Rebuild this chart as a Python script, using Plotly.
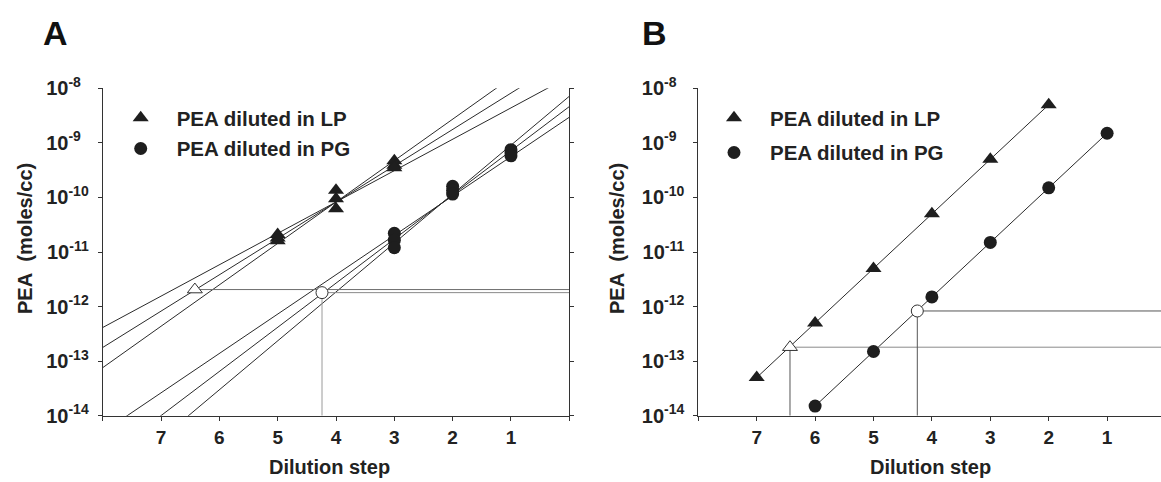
import numpy as np
import plotly.graph_objects as go

W, H = 1161, 482
FONT = "Liberation Sans, Arial, Helvetica, sans-serif"
INK = "#1e1e1e"
FS = "\u2007"  # figure space keeps tick labels left-aligned like the original

# ---------------- data ----------------
x_tickvals = [8, 7, 6, 5, 4, 3, 2, 1, 0]
x_ticktext = ["", "7", "6", "5", "4", "3", "2", "1", ""]
y_tickvals = [1e-14, 1e-13, 1e-12, 1e-11, 1e-10, 1e-9, 1e-8]
y_ticktext = ["10<sup>-14</sup>", "10<sup>-13</sup>", "10<sup>-12</sup>", "10<sup>-11</sup>",
              "10<sup>-10</sup>", "10<sup>-9" + FS + "</sup>", "10<sup>-8" + FS + "</sup>"]

# Panel A: replicate measurements
lp_a_step = [5, 5, 5, 4, 4, 4, 3, 3, 3]
lp_a_conc = [2.1e-11, 1.8e-11, 1.6e-11, 1.35e-10, 9.5e-11, 6.2e-11, 4.7e-10, 3.9e-10, 3.5e-10]
pg_a_step = [3, 3, 3, 2, 2, 2, 1, 1, 1]
pg_a_conc = [2.2e-11, 1.65e-11, 1.2e-11, 1.6e-10, 1.35e-10, 1.15e-10, 7.5e-10, 6.6e-10, 5.8e-10]

# Panel A: regression lines, log10(conc) = intercept - slope * step
lp_fit_intercept = [-7.784, -7.422, -7.048]
lp_fit_slope = [0.575, 0.666, 0.759]
pg_fit_intercept = [-8.53, -8.335, -8.146]
pg_fit_slope = [0.7216, 0.809, 0.8965]

# Panel A: estimated threshold points (open markers)
lp_a_est_step = [6.42]
lp_a_est_conc = [2.05e-12]
pg_a_est_step = [4.24]
pg_a_est_conc = [1.8e-12]

# Panel B
lp_b_step = [7, 6, 5, 4, 3, 2]
lp_b_conc = [5e-14, 5e-13, 5e-12, 5e-11, 5e-10, 5e-9]
pg_b_step = [6, 5, 4, 3, 2, 1]
pg_b_conc = [1.5e-14, 1.5e-13, 1.5e-12, 1.5e-11, 1.5e-10, 1.5e-9]
lp_b_est_step = [6.43]
lp_b_est_conc = [1.8e-13]
pg_b_est_step = [4.25]
pg_b_est_conc = [8.3e-13]

LP_NAME = "PEA diluted in LP"
PG_NAME = "PEA diluted in PG"

# ---------------- figure ----------------
fig = go.Figure()

def fit_line(xa, ya, b0, s):
    xs = np.array([8.0, 0.0])
    ys = 10 ** (b0 - s * xs)
    fig.add_trace(go.Scatter(x=xs, y=ys, mode="lines", xaxis=xa, yaxis=ya,
                             line=dict(color="#2a2a2a", width=1), showlegend=False,
                             hoverinfo="skip"))

def ref_lines(xa, ya, sx, sy, xend, hcolor, vcolor, vertical=True):
    fig.add_trace(go.Scatter(x=[sx[0], xend], y=[sy[0], sy[0]], mode="lines",
                             xaxis=xa, yaxis=ya, line=dict(color=hcolor, width=1),
                             showlegend=False, hoverinfo="skip"))
    if vertical:
        fig.add_trace(go.Scatter(x=[sx[0], sx[0]], y=[sy[0], 1e-14], mode="lines",
                                 xaxis=xa, yaxis=ya, line=dict(color=vcolor, width=1),
                                 showlegend=False, hoverinfo="skip"))

# ---- Panel A ----
for b0, s in zip(lp_fit_intercept, lp_fit_slope):
    fit_line("x", "y", b0, s)
for b0, s in zip(pg_fit_intercept, pg_fit_slope):
    fit_line("x", "y", b0, s)

ref_lines("x", "y", lp_a_est_step, lp_a_est_conc, 0, "#6e6e6e", "#9a9a9a", vertical=False)
ref_lines("x", "y", pg_a_est_step, pg_a_est_conc, 0, "#8a8a8a", "#9a9a9a", vertical=True)

fig.add_trace(go.Scatter(x=lp_a_step, y=lp_a_conc, mode="markers", xaxis="x", yaxis="y",
                         name=LP_NAME, legend="legend", legendgroup="a_lp",
                         marker=dict(symbol="triangle-up", size=14, color=INK)))
fig.add_trace(go.Scatter(x=pg_a_step, y=pg_a_conc, mode="markers", xaxis="x", yaxis="y",
                         name=PG_NAME, legend="legend", legendgroup="a_pg",
                         marker=dict(symbol="circle", size=13, color=INK)))
fig.add_trace(go.Scatter(x=lp_a_est_step, y=lp_a_est_conc, mode="markers", xaxis="x", yaxis="y",
                         showlegend=False,
                         marker=dict(symbol="triangle-up", size=13, color="white",
                                     line=dict(color="#333", width=1))))
fig.add_trace(go.Scatter(x=pg_a_est_step, y=pg_a_est_conc, mode="markers", xaxis="x", yaxis="y",
                         showlegend=False,
                         marker=dict(symbol="circle", size=12, color="white",
                                     line=dict(color="#333", width=1))))

# ---- Panel B ----
fig.add_trace(go.Scatter(x=lp_b_step, y=lp_b_conc, mode="lines", xaxis="x2", yaxis="y2",
                         line=dict(color="#2a2a2a", width=1), showlegend=False, hoverinfo="skip"))
fig.add_trace(go.Scatter(x=pg_b_step, y=pg_b_conc, mode="lines", xaxis="x2", yaxis="y2",
                         line=dict(color="#2a2a2a", width=1), showlegend=False, hoverinfo="skip"))
ref_lines("x2", "y2", lp_b_est_step, lp_b_est_conc, 0, "#8a8a8a", "#555555", vertical=True)
ref_lines("x2", "y2", pg_b_est_step, pg_b_est_conc, 0, "#555555", "#555555", vertical=True)

fig.add_trace(go.Scatter(x=lp_b_step, y=lp_b_conc, mode="markers", xaxis="x2", yaxis="y2",
                         name=LP_NAME, legend="legend2", legendgroup="b_lp",
                         marker=dict(symbol="triangle-up", size=14, color=INK)))
fig.add_trace(go.Scatter(x=pg_b_step, y=pg_b_conc, mode="markers", xaxis="x2", yaxis="y2",
                         name=PG_NAME, legend="legend2", legendgroup="b_pg",
                         marker=dict(symbol="circle", size=13, color=INK)))
fig.add_trace(go.Scatter(x=lp_b_est_step, y=lp_b_est_conc, mode="markers", xaxis="x2", yaxis="y2",
                         showlegend=False,
                         marker=dict(symbol="triangle-up", size=13, color="white",
                                     line=dict(color="#333", width=1))))
fig.add_trace(go.Scatter(x=pg_b_est_step, y=pg_b_est_conc, mode="markers", xaxis="x2", yaxis="y2",
                         showlegend=False,
                         marker=dict(symbol="circle", size=12, color="white",
                                     line=dict(color="#333", width=1))))

# ---------------- axes ----------------
xtickfont = dict(family=FONT, size=19, color="#222", weight="bold")
ytickfont = dict(family=FONT, size=20, color="#222", weight="bold")
ydom = [(H - 415.7) / H, (H - 88.3) / H]

def xaxis_cfg(dom, rng):
    return dict(domain=dom, range=rng, tickvals=x_tickvals, ticktext=x_ticktext,
                showline=True, linecolor="#333", linewidth=1, ticks="outside",
                ticklen=4, tickcolor="#333", showgrid=False, zeroline=False,
                tickfont=xtickfont, automargin=False, fixedrange=True)

def yaxis_cfg(anchor, mirror):
    return dict(type="log", domain=ydom, range=[-14, -8], anchor=anchor,
                tickvals=y_tickvals, ticktext=y_ticktext, showline=True,
                linecolor="#333", linewidth=1, ticks="outside", ticklen=4,
                tickcolor="#333", mirror=mirror, showgrid=False, zeroline=False,
                ticklabelstandoff=5,
                tickfont=ytickfont, automargin=False, fixedrange=True)

legfont = dict(family=FONT, size=20.5, color="#222", weight="bold")
fig.update_layout(
    width=W, height=H,
    margin=dict(l=0, r=0, t=0, b=0),
    paper_bgcolor="white", plot_bgcolor="white",
    xaxis=xaxis_cfg([102.7 / W, 569.3 / W], [8, 0]),
    yaxis=yaxis_cfg("x", "ticks"),
    xaxis2=xaxis_cfg([698.3 / W, 1.0], [8, 0.077]),
    yaxis2=yaxis_cfg("x2", False),
    legend=dict(x=104.7 / W, y=1 - 98 / H, xanchor="left", yanchor="top",
                bgcolor="rgba(0,0,0,0)", itemwidth=62, tracegroupgap=1,
                traceorder="grouped", font=legfont),
    legend2=dict(x=698 / W, y=1 - 98 / H, xanchor="left", yanchor="top",
                 bgcolor="rgba(0,0,0,0)", itemwidth=62, tracegroupgap=5,
                 traceorder="grouped", font=legfont),
    showlegend=True,
)

titlefont = dict(family=FONT, size=20, color="#222", weight="bold")
ann = [
    dict(text="A", x=41 / W, y=1 - 33 / H, xanchor="left", yanchor="middle",
         font=dict(family=FONT, size=34, color="#111", weight="bold")),
    dict(text="B", x=640 / W, y=1 - 33 / H, xanchor="left", yanchor="middle",
         font=dict(family=FONT, size=34, color="#111", weight="bold")),
    dict(text="PEA\u00a0\u00a0(moles/cc)", x=25 / W, y=1 - 239 / H, textangle=-90,
         xanchor="center", yanchor="middle", font=titlefont),
    dict(text="PEA\u00a0\u00a0(moles/cc)", x=617 / W, y=1 - 239 / H, textangle=-90,
         xanchor="center", yanchor="middle", font=titlefont),
    dict(text="Dilution step", x=329 / W, y=1 - 467 / H, xanchor="center",
         yanchor="middle", font=titlefont),
    dict(text="Dilution step", x=930 / W, y=1 - 467 / H, xanchor="center",
         yanchor="middle", font=titlefont),
]
for a in ann:
    a.update(xref="paper", yref="paper", showarrow=False)
fig.update_layout(annotations=ann)

fig.write_html(
    "out.html",
    config={"displayModeBar": False, "staticPlot": True},
    post_script="document.body.style.margin='0';document.body.style.overflow='hidden';",
)
